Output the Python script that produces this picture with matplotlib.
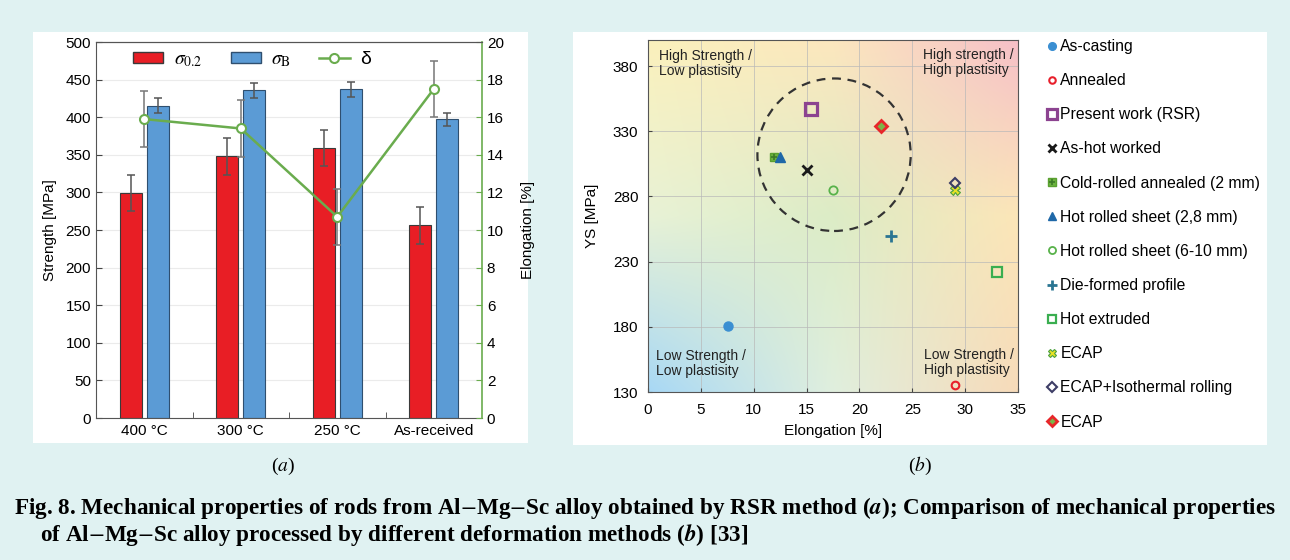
import numpy as np
import matplotlib
matplotlib.use('Agg')
import matplotlib.pyplot as plt
from matplotlib.patches import Rectangle, Ellipse, Patch
from matplotlib.lines import Line2D

plt.rcParams['font.family'] = ['Liberation Sans', 'DejaVu Sans']
plt.rcParams['mathtext.fontset'] = 'stix'

# ---------------- data: panel (a) ----------------
categories = ['400 °C', '300 °C', '250 °C', 'As-received']
ys02 = [299, 348, 359, 256]
ys02_err = [24, 25, 24, 24]
sigma_b = [415, 436, 437, 397]
sigma_b_err = [10, 10, 10, 9]
elong_a = [15.9, 15.4, 10.7, 17.5]
elong_a_err = [1.5, 1.5, 1.5, 1.5]

# ---------------- data: panel (b) ----------------
methods = ['As-casting', 'Annealed', 'Present work (RSR)', 'As-hot worked',
           'Cold-rolled annealed (2 mm)', 'Hot rolled sheet (2,8 mm)',
           'Hot rolled sheet (6-10 mm)', 'Die-formed profile', 'Hot extruded',
           'ECAP', 'ECAP+Isothermal rolling', 'ECAP']
elong_b = [7.6, 29.0, 15.4, 15.0, 11.9, 12.5, 17.5, 23.0, 33.0, 29.0, 29.0, 22.0]
ys_b = [181, 135, 347, 300, 310, 310, 285, 250, 222, 285, 290, 334]

W, H = 1290, 560
fig = plt.figure(figsize=(W / 100, H / 100), dpi=100)
fig.patch.set_facecolor('#e0f2f2')

def box(x0, y0, x1, y1):
    fig.patches.append(Rectangle((x0 / W, 1 - y1 / H), (x1 - x0) / W, (y1 - y0) / H,
                                 transform=fig.transFigure, facecolor='white',
                                 edgecolor='none', zorder=-5))

box(33, 32, 528, 443)
box(573, 32, 1267, 445)

def axpos(l, t, r, b):
    return [l / W, 1 - b / H, (r - l) / W, (b - t) / H]

# ================= panel (a) =================
ax = fig.add_axes(axpos(96, 42, 482, 418))
x = np.arange(len(categories))
bw = 0.23
off = 0.14
ax.bar(x - off, ys02, bw, color='#e81e25', edgecolor='#3a3a3a', linewidth=0.8, zorder=2)
ax.bar(x + off, sigma_b, bw, color='#5b9bd5', edgecolor='#2f4f6f', linewidth=0.8, zorder=2)
ax.errorbar(x - off, ys02, yerr=ys02_err, fmt='none', ecolor='#555555', elinewidth=1.1,
            capsize=3, capthick=1.1, zorder=3)
ax.errorbar(x + off, sigma_b, yerr=sigma_b_err, fmt='none', ecolor='#555555', elinewidth=1.1,
            capsize=3, capthick=1.1, zorder=3)
ax.set_xlim(-0.5, 3.5)
ax.set_ylim(0, 500)
ax.set_yticks(np.arange(0, 501, 50))
ax.yaxis.grid(True, color='#ebebeb', linewidth=0.8)
ax.set_axisbelow(True)
ax.set_xticks(x)
ax.set_xticklabels(categories, fontsize=11)
ax.set_xticks([0.5, 1.5, 2.5], minor=True)
ax.tick_params(axis='x', which='major', length=0, pad=4)
ax.tick_params(axis='x', which='minor', direction='in', length=4, color='#444444')
ax.tick_params(axis='y', direction='in', length=4, labelsize=11, color='#444444')
ax.set_ylabel('Strength [MPa]', fontsize=11, labelpad=6)
for s in ['left', 'bottom', 'top']:
    ax.spines[s].set_color('#555555')
ax.spines['right'].set_visible(False)

ax2 = ax.twinx()
ax2.errorbar(x, elong_a, yerr=elong_a_err, fmt='none', ecolor='#777777', elinewidth=1.1,
             capsize=3, capthick=1.1, zorder=3)
ax2.plot(x, elong_a, color='#6aac4e', linewidth=1.8, marker='o', markersize=6.5,
         markerfacecolor='white', markeredgecolor='#6aac4e', markeredgewidth=1.5, zorder=4)
ax2.set_ylim(0, 20)
ax2.set_yticks(np.arange(0, 21, 2))
ax2.tick_params(axis='y', direction='in', length=4, labelsize=11, color='#6aac4e')
ax2.set_ylabel('Elongation [%]', fontsize=11, labelpad=12)
ax2.spines['right'].set_color('#6aac4e')
ax2.spines['right'].set_linewidth(1.2)
ax2.spines['left'].set_visible(False)
ax2.spines['top'].set_color('#555555')
ax2.spines['bottom'].set_visible(False)

h_a = [Patch(facecolor='#e81e25', edgecolor='#3a3a3a'),
       Patch(facecolor='#5b9bd5', edgecolor='#2f4f6f'),
       Line2D([], [], color='#6aac4e', lw=1.8, marker='o', markersize=6.5,
              markerfacecolor='white', markeredgecolor='#6aac4e', markeredgewidth=1.5)]
ax2.legend(h_a, [r'$\sigma_{0.2}$', r'$\sigma_{\rm B}$', 'δ'], loc='upper left',
           bbox_to_anchor=((133 - 96) / 386, 0.975), ncol=3, frameon=False, fontsize=14,
           handlelength=1.55, handleheight=0.55, columnspacing=1.45, handletextpad=0.55,
           borderpad=0, borderaxespad=0)

# ================= panel (b) =================
bx = fig.add_axes(axpos(648, 40, 1018, 392))
ctrl = np.array([
    [[0xfb, 0xf1, 0xbc], [0xfc, 0xe7, 0xbe], [0xf6, 0xc0, 0xc8]],
    [[0xe8, 0xf2, 0xd6], [0xdc, 0xec, 0xc6], [0xfc, 0xe6, 0xb8]],
    [[0xa8, 0xd8, 0xf5], [0xe0, 0xef, 0xde], [0xf7, 0xdb, 0xba]],
], dtype=float) / 255.0
n = 200
t = np.linspace(0, 2, n)
tmp = np.empty((3, n, 3))
for r in range(3):
    for c in range(3):
        tmp[r, :, c] = np.interp(t, [0, 1, 2], ctrl[r, :, c])
grad = np.empty((n, n, 3))
for j in range(n):
    for c in range(3):
        grad[:, j, c] = np.interp(t, [0, 1, 2], tmp[:, j, c])
bx.imshow(grad, extent=(0, 35, 130, 400), aspect='auto', origin='upper',
          interpolation='bilinear', zorder=0)
bx.set_xlim(0, 35)
bx.set_ylim(130, 400)
bx.set_xticks(np.arange(0, 36, 5))
bx.set_yticks(np.arange(130, 381, 50))
bx.grid(True, color='#b8b8b8', linewidth=0.7, alpha=0.7)
bx.set_axisbelow(True)
bx.tick_params(direction='in', length=3, labelsize=11, color='#444444')
bx.tick_params(axis='x', pad=8)
bx.tick_params(axis='y', pad=7)
bx.set_xlabel('Elongation [%]', fontsize=11, labelpad=5)
bx.set_ylabel('YS [MPa]', fontsize=11, labelpad=10)
for s in bx.spines.values():
    s.set_color('#555555')

styles = [
    dict(marker='o', ms=6.5, mfc='#3b8fd2', mec='#3b8fd2', mew=1),
    dict(marker='o', ms=5.5, mfc='none', mec='#e8202c', mew=1.5),
    dict(marker='s', ms=8.5, mfc='none', mec='#8c4390', mew=2.3),
    dict(marker='x', ms=6.5, mfc='none', mec='#1a1a1a', mew=2),
    dict(marker='s', ms=6, mfc='#6cb33f', mec='#5aa030', mew=1),
    dict(marker='^', ms=6.5, mfc='#1f68a8', mec='#1f68a8', mew=1),
    dict(marker='o', ms=6, mfc='none', mec='#58b24a', mew=1.3),
    dict(marker='+', ms=8, mfc='none', mec='#2a7592', mew=2),
    dict(marker='s', ms=6.5, mfc='none', mec='#3aae50', mew=1.6),
    dict(marker='X', ms=7, mfc='#e8e225', mec='#4aa040', mew=0.8),
    dict(marker='D', ms=5.5, mfc='none', mec='#3d3d66', mew=1.5),
    dict(marker='D', ms=6, mfc='#7ab648', mec='#e8262a', mew=2),
]
handles = []
for xv, yv, st in zip(elong_b, ys_b, styles):
    bx.plot([xv], [yv], linestyle='none', zorder=5, **st)
    lst = dict(st)
    lst['ms'] = st['ms'] * 0.85
    handles.append(Line2D([], [], linestyle='none', **lst))
bx.plot([elong_b[4]], [ys_b[4]], linestyle='none', marker='+', ms=5, mec='#3c7a28', mew=1.2, zorder=6)
plus = Line2D([], [], linestyle='none', marker='+', ms=4.5, mec='#3c7a28', mew=1.2)
handles[4] = (handles[4], plus)

bx.add_patch(Ellipse((17.6, 312), 14.5, 117, fill=False, linestyle=(0, (4, 3)),
                     linewidth=1.6, edgecolor='#333333', zorder=4))

kw = dict(fontsize=10, va='top', ha='left', color='#222222', linespacing=1.1)
bx.text(1.0, 393, 'High Strength /\nLow plastisity', **kw)
bx.text(26.0, 394, 'High strength /\nHigh plastisity', **kw)
bx.text(0.8, 163, 'Low Strength /\nLow plastisity', **kw)
bx.text(26.1, 164, 'Low Strength /\nHigh plastisity', **kw)

fig.legend(handles, methods, loc='upper left', bbox_to_anchor=(1047 / W, 1 - 39 / H),
           frameon=False, fontsize=11.3, labelspacing=1.22, handlelength=0.6,
           handletextpad=0.25, borderpad=0, borderaxespad=0)

# ================= captions =================
fig.text(283 / W, 1 - 466 / H, r'($a$)', fontsize=14, ha='center', va='center',
         family='Liberation Serif')
fig.text(920 / W, 1 - 466 / H, r'($b$)', fontsize=14, ha='center', va='center',
         family='Liberation Serif')
fig.text(14 / W, 1 - 508 / H,
         r'Fig. 8. Mechanical properties of rods from Al$-$Mg$-$Sc alloy obtained by RSR method ($\mathbfit{a}$); '
         r'Comparison of mechanical properties',
         fontsize=16.7, ha='left', va='center', family='Liberation Serif', weight='bold')
fig.text(40 / W, 1 - 535 / H,
         r'of Al$-$Mg$-$Sc alloy processed by different deformation methods ($\mathbfit{b}$) [33]',
         fontsize=16.7, ha='left', va='center', family='Liberation Serif', weight='bold')

fig.savefig('out.png', dpi=100, facecolor=fig.get_facecolor())
